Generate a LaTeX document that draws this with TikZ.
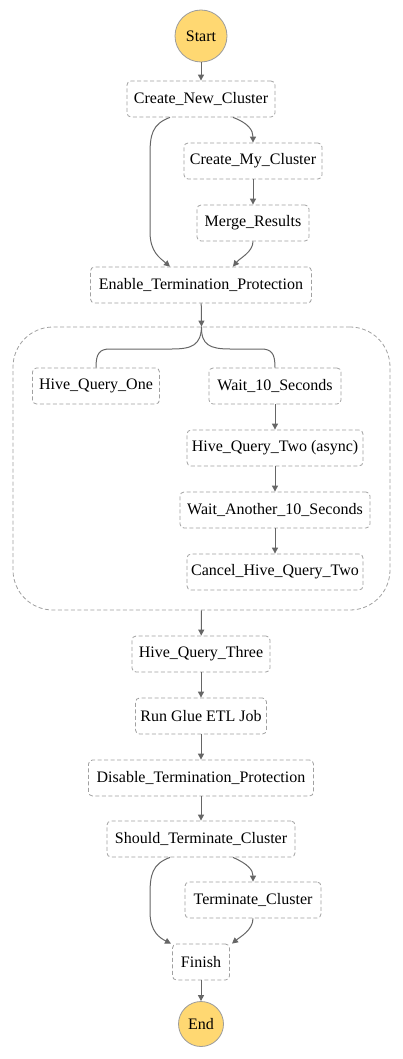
\documentclass[tikz,border=0pt]{standalone}
\usepackage{fontspec}
\setmainfont{Liberation Serif}
\usetikzlibrary{arrows.meta,calc}
\definecolor{termfill}{HTML}{FFD872}
\definecolor{termborder}{HTML}{9C9C9C}
\definecolor{boxborder}{HTML}{A0A0A0}
\definecolor{edgecol}{HTML}{666666}
\tikzset{
  statebox/.style={draw=boxborder, dash pattern=on 4pt off 2.5pt, rounded corners=4pt,
    minimum height=36pt, inner sep=0pt, line width=0.8pt, font=\fontsize{16}{18}\selectfont},
  termnode/.style={circle, draw=termborder, fill=termfill, inner sep=0pt, line width=0.8pt,
    font=\fontsize{16}{18}\selectfont},
  groupbox/.style={draw=boxborder, dash pattern=on 4pt off 2.5pt, rounded corners=40pt,
    line width=0.8pt, inner sep=0pt},
  flow/.style={draw=edgecol, line width=1pt, -{Triangle[length=6pt,width=6pt]}},
  plainflow/.style={draw=edgecol, line width=1pt},
}
\begin{document}
\begin{tikzpicture}[x=1pt,y=-1pt]
\useasboundingbox (0,0) rectangle (403,1059);
\node[groupbox, minimum width=377pt, minimum height=283pt] (par) at (201.5,468.5) {};
\node[termnode, minimum size=52pt] (start) at (201,36) {Start};
\node[statebox, minimum width=148pt] (cnc) at (201,99) {Create\_New\_Cluster};
\node[statebox, minimum width=138pt] (cmc) at (253,161) {Create\_My\_Cluster};
\node[statebox, minimum width=112pt] (mr) at (253,223) {Merge\_Results};
\node[statebox, minimum width=221pt] (etp) at (201,285) {Enable\_Termination\_Protection};
\node[statebox, minimum width=127pt] (hq1) at (96,386) {Hive\_Query\_One};
\node[statebox, minimum width=132pt] (w10) at (275,386) {Wait\_10\_Seconds};
\node[statebox, minimum width=176pt] (hq2) at (275,448) {Hive\_Query\_Two (async)};
\node[statebox, minimum width=190pt] (wa10) at (275,510) {Wait\_Another\_10\_Seconds};
\node[statebox, minimum width=176pt] (chq2) at (275,572) {Cancel\_Hive\_Query\_Two};
\node[statebox, minimum width=138pt] (hq3) at (201,654) {Hive\_Query\_Three};
\node[statebox, minimum width=131pt] (glue) at (201,716) {Run Glue ETL Job};
\node[statebox, minimum width=225pt] (dtp) at (201,778) {Disable\_Termination\_Protection};
\node[statebox, minimum width=188pt] (stc) at (201,839) {Should\_Terminate\_Cluster};
\node[statebox, minimum width=136pt] (tc) at (253,900) {Terminate\_Cluster};
\node[statebox, minimum width=57pt] (fin) at (201,962) {Finish};
\node[termnode, minimum size=45pt] (end) at (201,1024) {End};

\draw[flow] (start) -- (cnc);
\draw[flow] ([xshift=-31pt]cnc.south) .. controls (152,124) and (150,135) .. (150,155) -- (150,232) .. controls (150,252) and (160,258) .. ([xshift=-31pt]etp.north);
\draw[flow] ([xshift=32pt]cnc.south) .. controls (248,123) and (253,130) .. (cmc.north);
\draw[flow] (cmc) -- (mr);
\draw[flow] (mr.south) .. controls (253,252) and (240,258) .. ([xshift=32pt]etp.north);
\draw[flow] (etp) -- (par.north);
\draw[plainflow] (par.north) .. controls (201,345) and (192,349) .. (172,349) -- (110,349) .. controls (99,349) and (96,354) .. (hq1.north);
\draw[plainflow] (par.north) .. controls (201,345) and (210,349) .. (230,349) -- (261,349) .. controls (272,349) and (275,354) .. (w10.north);
\draw[flow] (w10) -- (hq2);
\draw[flow] (hq2) -- (wa10);
\draw[flow] (wa10) -- (chq2);
\draw[flow] (par.south) -- (hq3);
\draw[flow] (hq3) -- (glue);
\draw[flow] (glue) -- (dtp);
\draw[flow] (dtp) -- (stc);
\draw[flow] ([xshift=-31pt]stc.south) .. controls (152,864) and (150,875) .. (150,895) -- (150,912) .. controls (150,932) and (160,938) .. ([xshift=-30pt]fin.north);
\draw[flow] ([xshift=32pt]stc.south) .. controls (248,864) and (253,870) .. (tc.north);
\draw[flow] (tc.south) .. controls (253,930) and (240,937) .. ([xshift=31pt]fin.north);
\draw[flow] (fin) -- (end);
\end{tikzpicture}
\end{document}
